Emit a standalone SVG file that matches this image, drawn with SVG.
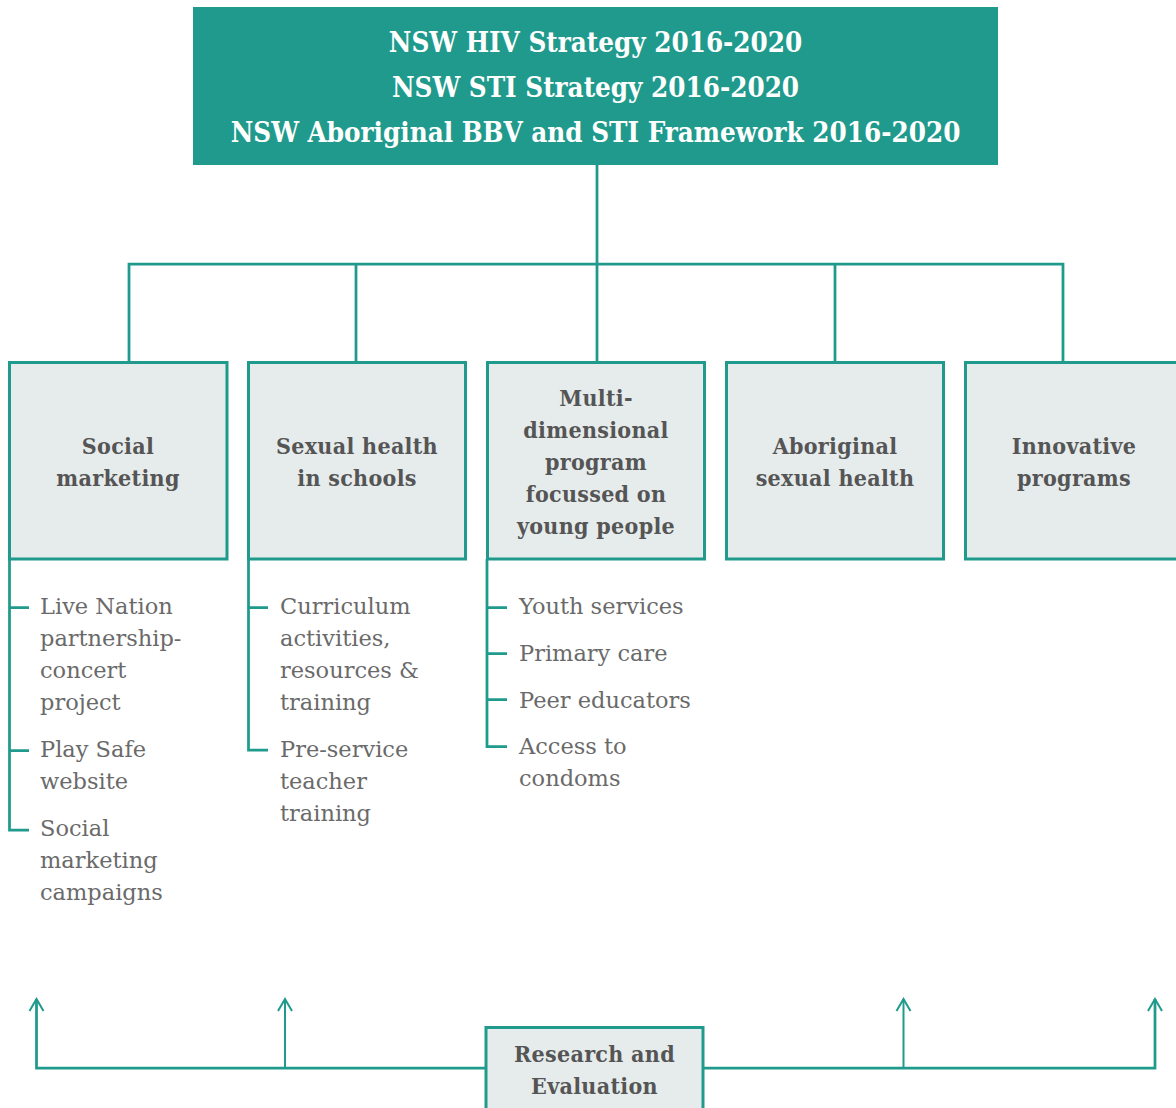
<svg xmlns="http://www.w3.org/2000/svg" width="1176" height="1108" viewBox="0 0 1176 1108">
<style>
.title{font-family:"DejaVu Serif","Liberation Serif",serif;font-weight:bold;font-stretch:condensed;font-size:27.5px;fill:#ffffff;text-anchor:middle}
.box{fill:#e6ecec;stroke:#1f9a8c;stroke-width:3}
.head{font-family:"DejaVu Serif","Liberation Serif",serif;font-weight:bold;font-stretch:condensed;font-size:23px;letter-spacing:0.3px;fill:#555555;text-anchor:middle}
.item{font-family:"DejaVu Serif","Liberation Serif",serif;font-size:22.5px;fill:#6a6a6a}
.ln{fill:none;stroke:#1f9a8c;stroke-width:2.75}
.ln2{fill:none;stroke:#1f9a8c;stroke-width:2}
</style>
<defs>
<marker id="arrow" viewBox="-14 -9 16 18" markerWidth="16" markerHeight="18" refX="0" refY="0" orient="auto" markerUnits="userSpaceOnUse">
<path d="M-12,-7 L0,0 L-12,7" fill="none" stroke="#1f9a8c" stroke-width="2"/>
</marker>
</defs>
<rect width="1176" height="1108" fill="#ffffff"/>

<g id="connectors">
<path class="ln" d="M597,165 V264 M129,362 V264 H1063 V362 M356,264 V362 M597,264 V362 M835,264 V362"/>
<path class="ln" d="M9.5,559 V830 H29 M9.5,607.5 H29 M9.5,750.5 H29"/>
<path class="ln" d="M248.5,559 V750 H268 M248.5,607.5 H268"/>
<path class="ln" d="M487,559 V746.5 H507 M487,607.5 H507 M487,653.5 H507 M487,699.5 H507"/>
<path class="ln" d="M486,1068 H36.5 V999" marker-end="url(#arrow)"/>
<path class="ln2" d="M285,1068 V999" marker-end="url(#arrow)"/>
<path class="ln" d="M703,1068 H1155 V999" marker-end="url(#arrow)"/>
<path class="ln2" d="M903.5,1068 V999" marker-end="url(#arrow)"/>
</g>

<g id="strategy">
<rect x="193" y="7" width="805" height="158" fill="#1f9a8c"/>
<text class="title" x="595.5" y="52">NSW HIV Strategy 2016-2020</text>
<text class="title" x="595.5" y="97">NSW STI Strategy 2016-2020</text>
<text class="title" x="595.5" y="142">NSW Aboriginal BBV and STI Framework 2016-2020</text>
</g>

<g id="social-marketing">
<rect class="box" x="9.5" y="362.5" width="217.5" height="196.5"/>
<text class="head" x="118" y="454">Social</text>
<text class="head" x="118" y="486">marketing</text>
</g>

<g id="sexual-health-schools">
<rect class="box" x="248.5" y="362.5" width="217" height="196.5"/>
<text class="head" x="357" y="454">Sexual health</text>
<text class="head" x="357" y="486">in schools</text>
</g>

<g id="multi-dimensional">
<rect class="box" x="487.5" y="362.5" width="217" height="196.5"/>
<text class="head" x="596" y="406">Multi-</text>
<text class="head" x="596" y="438">dimensional</text>
<text class="head" x="596" y="470">program</text>
<text class="head" x="596" y="502">focussed on</text>
<text class="head" x="596" y="534">young people</text>
</g>

<g id="aboriginal-sexual-health">
<rect class="box" x="726.5" y="362.5" width="217" height="196.5"/>
<text class="head" x="835" y="454">Aboriginal</text>
<text class="head" x="835" y="486">sexual health</text>
</g>

<g id="innovative-programs">
<rect class="box" x="965.5" y="362.5" width="217" height="196.5"/>
<text class="head" x="1074" y="454">Innovative</text>
<text class="head" x="1074" y="486">programs</text>
</g>

<g id="social-marketing-items">
<text class="item" x="40" y="614">Live Nation</text>
<text class="item" x="40" y="646">partnership-</text>
<text class="item" x="40" y="678">concert</text>
<text class="item" x="40" y="710">project</text>
<text class="item" x="40" y="757">Play Safe</text>
<text class="item" x="40" y="789">website</text>
<text class="item" x="40" y="836">Social</text>
<text class="item" x="40" y="868">marketing</text>
<text class="item" x="40" y="900">campaigns</text>
</g>

<g id="schools-items">
<text class="item" x="280" y="614">Curriculum</text>
<text class="item" x="280" y="646">activities,</text>
<text class="item" x="280" y="678">resources &amp;</text>
<text class="item" x="280" y="710">training</text>
<text class="item" x="280" y="757">Pre-service</text>
<text class="item" x="280" y="789">teacher</text>
<text class="item" x="280" y="821">training</text>
</g>

<g id="young-people-items">
<text class="item" x="519" y="614">Youth services</text>
<text class="item" x="519" y="661">Primary care</text>
<text class="item" x="519" y="708">Peer educators</text>
<text class="item" x="519" y="754">Access to</text>
<text class="item" x="519" y="786">condoms</text>
</g>

<g id="research-evaluation">
<rect class="box" x="486" y="1027.5" width="217" height="90"/>
<text class="head" x="594.5" y="1062">Research and</text>
<text class="head" x="594.5" y="1094">Evaluation</text>
</g>
</svg>
